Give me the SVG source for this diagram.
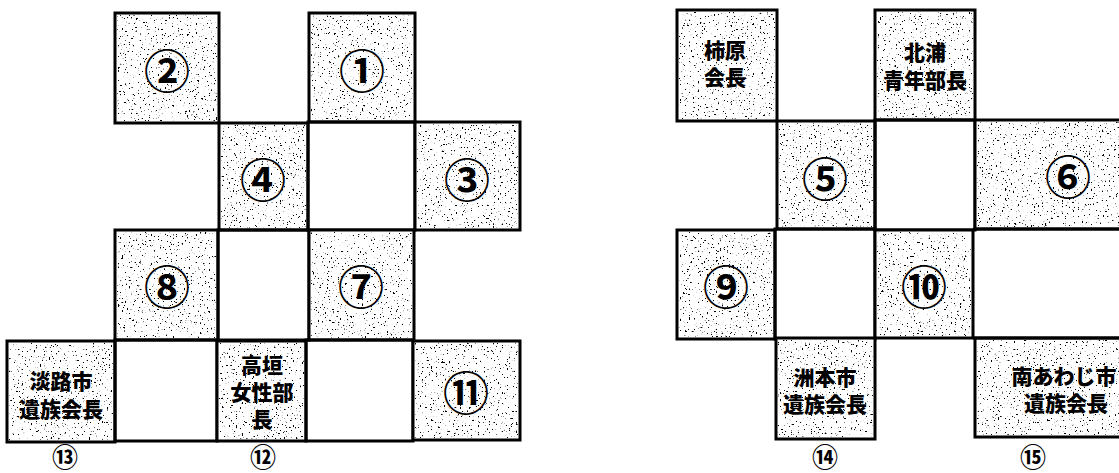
<svg xmlns="http://www.w3.org/2000/svg" width="1119" height="473" viewBox="0 0 1119 473">
<style>
.box{stroke:#000;stroke-width:3;fill:#fff}
.nz{fill:#fff;stroke:none}
.num{font-family:"Noto Sans CJK JP","Noto Sans",sans-serif;font-size:46px;font-weight:bold;text-anchor:middle;dominant-baseline:central;fill:#000}
.lbl{font-family:"Noto Sans CJK JP",sans-serif;font-size:21px;font-weight:900;text-anchor:middle;fill:#000}
.cap{font-family:"Noto Sans CJK JP","Noto Sans",sans-serif;font-size:26px;font-weight:bold;text-anchor:middle;dominant-baseline:central;fill:#000}
</style>
<defs>
<filter id="speck" x="0" y="0" width="1" height="1" filterUnits="objectBoundingBox">
<feTurbulence type="fractalNoise" baseFrequency="0.55" numOctaves="2" seed="3" result="t"/>
<feColorMatrix in="t" type="matrix" values="0 0 0 0 0  0 0 0 0 0  0 0 0 0 0  16 0 0 0 -10.6" result="s"/>
<feFlood flood-color="#fff" result="w"/>
<feMerge><feMergeNode in="w"/><feMergeNode in="s"/></feMerge>
</filter>
</defs>
<rect width="1119" height="473" fill="#fff"/>
<g id="connectors"/>
<g id="n2"><rect class="box" x="115" y="13" width="104" height="110"/><rect class="nz" filter="url(#speck)" x="117" y="15" width="100" height="106"/><text class="num" x="167" y="68">②</text></g>
<g id="n1"><rect class="box" x="309" y="13" width="106" height="109"/><rect class="nz" filter="url(#speck)" x="311" y="15" width="102" height="105"/><text class="num" x="362" y="68">①</text></g>
<g id="n4"><rect class="box" x="219" y="123" width="89" height="107"/><rect class="nz" filter="url(#speck)" x="221" y="125" width="85" height="103"/><text class="num" x="263" y="177">④</text></g>
<g id="empty-a"><rect class="box" x="308" y="122" width="107" height="108" style="fill:none"/></g>
<g id="n3"><rect class="box" x="415" y="122" width="105" height="108"/><rect class="nz" filter="url(#speck)" x="417" y="124" width="101" height="104"/><text class="num" x="467" y="177">③</text></g>
<g id="n8"><rect class="box" x="115" y="230" width="103" height="110"/><rect class="nz" filter="url(#speck)" x="117" y="232" width="99" height="106"/><text class="num" x="167" y="284">⑧</text></g>
<g id="empty-b"><rect class="box" x="218" y="230" width="91" height="110" style="fill:none"/></g>
<g id="n7"><rect class="box" x="309" y="230" width="105" height="110"/><rect class="nz" filter="url(#speck)" x="311" y="232" width="101" height="106"/><text class="num" x="361" y="284">⑦</text></g>
<g id="n13"><rect class="box" x="7" y="341" width="108" height="101"/><rect class="nz" filter="url(#speck)" x="9" y="343" width="104" height="97"/><text class="lbl" x="61" y="389">淡路市</text><text class="lbl" x="61" y="417">遺族会長</text></g>
<g id="empty-c"><rect class="box" x="115" y="340" width="102" height="101" style="fill:none"/></g>
<g id="n12"><rect class="box" x="217" y="341" width="89" height="100"/><rect class="nz" filter="url(#speck)" x="219" y="343" width="85" height="96"/><text class="lbl" x="262" y="373">高垣</text><text class="lbl" x="262" y="400">女性部</text><text class="lbl" x="262" y="427">長</text></g>
<g id="empty-d"><rect class="box" x="306" y="340" width="107" height="101" style="fill:none"/></g>
<g id="n11"><rect class="box" x="413" y="341" width="107" height="99"/><rect class="nz" filter="url(#speck)" x="415" y="343" width="103" height="95"/><text class="num" x="466" y="390">⑪</text></g>
<text class="cap" x="65" y="455">⑬</text>
<text class="cap" x="263" y="455">⑫</text>
<g id="k1"><rect class="box" x="677" y="10" width="100" height="111"/><rect class="nz" filter="url(#speck)" x="679" y="12" width="96" height="107"/><text class="lbl" x="725" y="58">柿原</text><text class="lbl" x="725" y="85">会長</text></g>
<g id="k2"><rect class="box" x="875" y="10" width="100" height="110"/><rect class="nz" filter="url(#speck)" x="877" y="12" width="96" height="106"/><text class="lbl" x="925" y="60">北浦</text><text class="lbl" x="925" y="88">青年部長</text></g>
<g id="n5"><rect class="box" x="777" y="121" width="98" height="108"/><rect class="nz" filter="url(#speck)" x="779" y="123" width="94" height="104"/><text class="num" x="825" y="176">⑤</text></g>
<g id="empty-e"><rect class="box" x="875" y="120" width="100" height="110" style="fill:none"/></g>
<g id="n6"><rect class="box" x="975" y="120" width="175" height="109"/><rect class="nz" filter="url(#speck)" x="977" y="122" width="142" height="105"/><text class="num" x="1068" y="174">⑥</text></g>
<g id="n9"><rect class="box" x="677" y="230" width="98" height="109"/><rect class="nz" filter="url(#speck)" x="679" y="232" width="94" height="105"/><text class="num" x="726" y="284">⑨</text></g>
<g id="empty-f"><rect class="box" x="775" y="229" width="100" height="110" style="fill:none"/></g>
<g id="n10"><rect class="box" x="875" y="230" width="98" height="108"/><rect class="nz" filter="url(#speck)" x="877" y="232" width="94" height="104"/><text class="num" x="924" y="284">⑩</text></g>
<g id="n14"><rect class="box" x="776" y="338" width="99" height="101"/><rect class="nz" filter="url(#speck)" x="778" y="340" width="95" height="97"/><text class="lbl" x="825" y="385">洲本市</text><text class="lbl" x="825" y="412">遺族会長</text></g>
<g id="n15"><rect class="box" x="975" y="338" width="175" height="99"/><rect class="nz" filter="url(#speck)" x="977" y="340" width="142" height="95"/><text class="lbl" x="1064" y="384">南あわじ市</text><text class="lbl" x="1066" y="411">遺族会長</text></g>
<line x1="973" y1="338" x2="1119" y2="338" stroke="#000" stroke-width="3"/>
<line x1="973" y1="229" x2="1119" y2="229" stroke="#000" stroke-width="3"/>
<text class="cap" x="825" y="455">⑭</text>
<text class="cap" x="1033" y="455">⑮</text>
</svg>
